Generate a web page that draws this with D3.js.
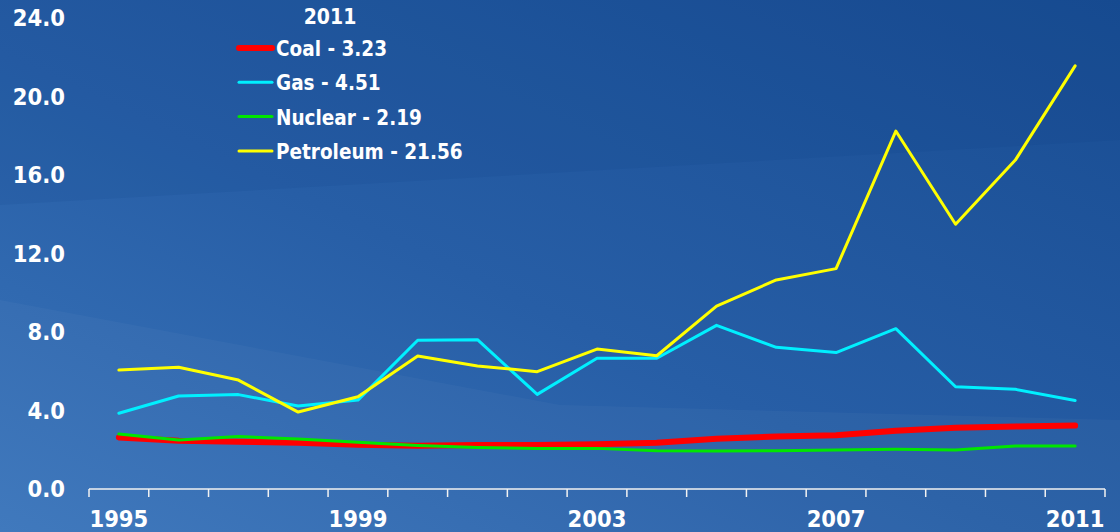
<!DOCTYPE html>
<html>
<head>
<meta charset="utf-8">
<script src="https://cdn.jsdelivr.net/npm/d3@7"></script>
<style>
  html, body { margin: 0; padding: 0; background: #2258a0; }
  svg { display: block; }
  text { font-family: "DejaVu Sans Condensed", "DejaVu Sans", sans-serif; font-weight: bold; fill: #fff; }
</style>
</head>
<body>
<svg id="chart" width="1120" height="532"></svg>
<script>
// data
const years = [1995, 1996, 1997, 1998, 1999, 2000, 2001, 2002, 2003, 2004, 2005, 2006, 2007, 2008, 2009, 2010, 2011];
const coal = [2.63, 2.46, 2.41, 2.36, 2.26, 2.21, 2.24, 2.24, 2.28, 2.36, 2.56, 2.67, 2.74, 2.97, 3.12, 3.19, 3.23];
const gas = [3.86, 4.74, 4.81, 4.23, 4.53, 7.58, 7.61, 4.82, 6.66, 6.66, 8.34, 7.22, 6.95, 8.17, 5.21, 5.08, 4.51];
const nuclear = [2.80, 2.50, 2.67, 2.55, 2.38, 2.22, 2.12, 2.07, 2.07, 1.95, 1.94, 1.95, 1.99, 2.02, 1.99, 2.19, 2.19];
const petroleum = [6.06, 6.20, 5.55, 3.92, 4.70, 6.78, 6.27, 5.98, 7.13, 6.79, 9.32, 10.65, 11.23, 18.24, 13.49, 16.76, 21.56];
const yTicks = [0, 4, 8, 12, 16, 20, 24];
const xLabels = [1995, 1999, 2003, 2007, 2011];
const legendTitle = "2011";

const series = [
  { name: "Coal", values: coal, color: "#ff0000", width: 6 },
  { name: "Gas", values: gas, color: "#00f0ff", width: 3 },
  { name: "Nuclear", values: nuclear, color: "#00e600", width: 3 },
  { name: "Petroleum", values: petroleum, color: "#ffff00", width: 3 }
];

const W = 1120, H = 532;
const svg = d3.select("#chart");

// background
const defs = svg.append("defs");
const grad = defs.append("linearGradient").attr("id", "bg")
  .attr("x1", "0%").attr("y1", "100%").attr("x2", "100%").attr("y2", "0%");
grad.append("stop").attr("offset", "0%").attr("stop-color", "#3a75bb");
grad.append("stop").attr("offset", "45%").attr("stop-color", "#275ea6");
grad.append("stop").attr("offset", "100%").attr("stop-color", "#184c92");
svg.append("rect").attr("width", W).attr("height", H).attr("fill", "url(#bg)");
// faint bands
svg.append("path").attr("d", "M0,0 L1120,0 L1120,140 L0,205 Z").attr("fill", "#0b3a80").attr("opacity", 0.1);
svg.append("path").attr("d", "M0,300 L560,405 L1120,420 L1120,532 L0,532 Z").attr("fill", "#ffffff").attr("opacity", 0.03);

const x = d3.scaleBand().domain(years).range([89, 1105]);
const y = d3.scaleLinear().domain([0, 24]).range([489, 18]);

// y labels
svg.append("g").selectAll("text").data(yTicks).join("text")
  .attr("x", 65).attr("y", d => y(d)).attr("dy", "0.36em")
  .attr("text-anchor", "end").style("font-size", "23.5px")
  .text(d => d.toFixed(1));

// x axis
const xAxis = svg.append("g").attr("transform", "translate(0,489)");
xAxis.append("line").attr("x1", 89).attr("x2", 1105).attr("stroke", "#f2f2f2").attr("stroke-width", 1.5);
const bounds = years.map(d => x(d)).concat([x.range()[1]]);
xAxis.selectAll(".tk").data(bounds).join("line").attr("class", "tk")
  .attr("x1", d => d).attr("x2", d => d).attr("y1", 0).attr("y2", 8)
  .attr("stroke", "#f2f2f2").attr("stroke-width", 1.5);
xAxis.selectAll("text").data(xLabels).join("text")
  .attr("x", d => x(d) + x.bandwidth() / 2).attr("y", 38)
  .attr("text-anchor", "middle").style("font-size", "23.5px")
  .text(d => d);

// lines
const line = d3.line().x((d, i) => x(years[i]) + x.bandwidth() / 2).y(d => y(d));
const order = [series[1], series[3], series[0], series[2]];
svg.append("g").selectAll("path").data(order).join("path")
  .attr("d", d => line(d.values))
  .attr("fill", "none").attr("stroke", d => d.color)
  .attr("stroke-width", d => d.width)
  .attr("stroke-linejoin", "round").attr("stroke-linecap", "round");

// legend
const lg = svg.append("g");
lg.append("text").attr("x", 330).attr("y", 24).attr("text-anchor", "middle")
  .style("font-size", "21px").text(legendTitle);
const rows = lg.selectAll(".row").data(series).join("g").attr("class", "row")
  .attr("transform", (d, i) => `translate(0,${48 + i * 34.3})`);
rows.append("line").attr("x1", 239).attr("x2", 272)
  .attr("stroke", d => d.color).attr("stroke-width", d => d.width === 6 ? 6 : 3)
  .attr("stroke-linecap", "round");
rows.append("text").attr("x", 276).attr("y", 8).style("font-size", "20.5px")
  .text(d => `${d.name} - ${d.values[d.values.length - 1].toFixed(2)}`);
</script>
</body>
</html>
